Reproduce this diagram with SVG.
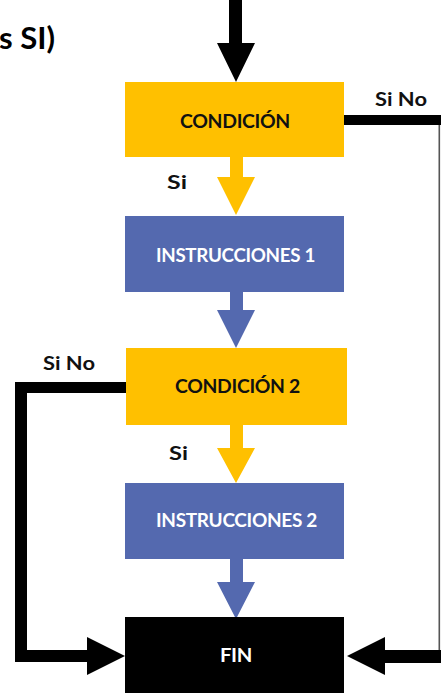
<svg xmlns="http://www.w3.org/2000/svg" width="441" height="693" viewBox="0 0 441 693">
<style>
.lbl{font-family:"Lato","Liberation Sans",sans-serif;font-weight:bold;font-size:18px;fill:#111}
.box{font-family:"Lato","Liberation Sans",sans-serif;font-weight:bold;font-size:18px;letter-spacing:-0.3px}
.yel{fill:#FFC000}
.blu{fill:#5469AF}
.blk{fill:#000}
</style>
<rect width="441" height="693" fill="#fff"/>
<text x="-1" y="49" font-family="Lato, 'Liberation Sans', sans-serif" font-weight="bold" font-size="30" fill="#000" textLength="56" lengthAdjust="spacingAndGlyphs">s SI)</text>
<g id="connectors">
  <path class="blk" d="M229 0H242V43H255L236 82L217 43H229Z"/>
  <path class="yel" d="M230 157H243V177H255L236 215L217 177H230Z"/>
  <path class="blu" d="M230 292H243V310H255L236 348L217 310H230Z"/>
  <path class="yel" d="M230 425H243V448H255L236 483L217 448H230Z"/>
  <path class="blu" d="M230 559H243V582H255L236 619L217 582H230Z"/>
  <path class="blk" d="M126 382V393H27V650H87V637L125 656L87 675V662H15V382Z"/>
  <path class="blk" d="M344 115H441V125H344Z"/>
  <rect x="438.5" y="125" width="1.6" height="525" fill="#555"/>
  <path class="blk" d="M441 650V663H385V675L347 656L385 637V650Z"/>
  <text class="lbl" x="375" y="106" textLength="52" lengthAdjust="spacingAndGlyphs">Si No</text>
  <text class="lbl" x="167" y="189" textLength="20" lengthAdjust="spacingAndGlyphs">Si</text>
  <text class="lbl" x="43" y="370" textLength="52" lengthAdjust="spacingAndGlyphs">Si No</text>
  <text class="lbl" x="169" y="460" textLength="19" lengthAdjust="spacingAndGlyphs">Si</text>
</g>
<g id="cond1">
  <rect class="yel" x="125" y="82" width="219" height="75"/>
  <text class="box" x="180" y="128" fill="#111" textLength="110" lengthAdjust="spacingAndGlyphs">CONDICIÓN</text>
</g>
<g id="instr1">
  <rect class="blu" x="125" y="216" width="219" height="76"/>
  <text class="box" x="156" y="262" fill="#fff" textLength="159" lengthAdjust="spacingAndGlyphs">INSTRUCCIONES 1</text>
</g>
<g id="cond2">
  <rect class="yel" x="126" y="348" width="221" height="77"/>
  <text class="box" x="175" y="393" fill="#111" textLength="125" lengthAdjust="spacingAndGlyphs">CONDICIÓN 2</text>
</g>
<g id="instr2">
  <rect class="blu" x="125" y="483" width="219" height="76"/>
  <text class="box" x="156" y="527" fill="#fff" textLength="161" lengthAdjust="spacingAndGlyphs">INSTRUCCIONES 2</text>
</g>
<g id="fin">
  <rect class="blk" x="125" y="617" width="219" height="76"/>
  <text class="box" x="220" y="662" fill="#fff" textLength="32" lengthAdjust="spacingAndGlyphs">FIN</text>
</g>
</svg>
